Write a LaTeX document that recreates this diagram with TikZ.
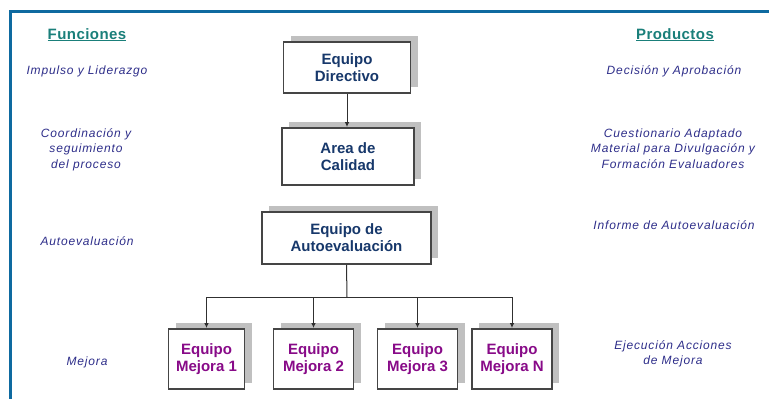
\documentclass[tikz,border=0pt]{standalone}
\usepackage{fontspec}
\setmainfont{Liberation Sans}
\newfontfamily\sidefont[LetterSpace=7]{Liberation Sans}
\newfontfamily\headfont[LetterSpace=3]{Liberation Sans}
\usetikzlibrary{arrows.meta,shadows}
\definecolor{framec}{HTML}{0E6AA0}
\definecolor{headc}{HTML}{1A7F7A}
\definecolor{sidec}{HTML}{2E2E8A}
\definecolor{navyc}{HTML}{17386B}
\definecolor{purplec}{HTML}{880A88}
\definecolor{shadowc}{HTML}{C0C0C0}
\definecolor{borderc}{HTML}{454545}
\definecolor{connc}{HTML}{303030}
\begin{document}
\begin{tikzpicture}[x=1pt,y=-1pt,
  box/.style={draw=borderc, line width=1.8pt, fill=white, align=center, inner sep=0pt,
    font=\fontsize{15}{17}\selectfont\bfseries,
    general shadow={fill=shadowc, shadow xshift=7pt, shadow yshift=6pt}},
  topbox/.style={box, text=navyc},
  mbox/.style={box, text=purplec, minimum width=80pt, minimum height=60pt},
  side/.style={text=sidec, font=\sidefont\itshape\fontsize{12}{15.5}\selectfont, align=center, anchor=base},
  head/.style={text=headc, font=\headfont\bfseries\fontsize{15}{17}\selectfont, anchor=base},
  conn/.style={draw=connc, line width=1pt},
  arr/.style={conn, -{Latex[length=5pt,width=4.5pt]}}]
\useasboundingbox (0,0) rectangle (769,399);
\fill[white] (0,0) rectangle (769,399);
\draw[framec, line width=3pt] (10.5,399) -- (10.5,11.5) -- (769,11.5);
% boxes
\node[topbox, minimum width=127pt, minimum height=51pt] (dir) at (347,67.5) {Equipo\\Directivo};
\node[topbox, minimum width=132pt, minimum height=57pt] (cal) at (348,156.5) {Area de\\Calidad};
\node[topbox, minimum width=169pt, minimum height=52pt] (auto) at (346.5,238) {Equipo de\\Autoevaluación};
\node[mbox, minimum width=76pt] (m1) at (206.5,359) {Equipo\\Mejora 1};
\node[mbox] (m2) at (313.5,359) {Equipo\\Mejora 2};
\node[mbox] (m3) at (417.5,359) {Equipo\\Mejora 3};
\node[mbox] (mn) at (512,359) {Equipo\\Mejora N};
% connectors
\draw[arr] (dir.south) -- (dir.south |- cal.north);
\coordinate (br) at (347,297);
\draw[conn] (auto.south) -- (br);
\draw[arr] (br) -| (m1.north);
\draw[arr] (br) -| (m2.north);
\draw[arr] (br) -| (m3.north);
\draw[arr] (br) -| (mn.north);
% side texts (base anchor = baseline of last line)
\node[head] (fun) at (87,39) {\underline{Funciones}};
\node[head] (pro) at (675,39) {\underline{Productos}};
\node[side] (f1) at (87,74) {Impulso y Liderazgo};
\node[side] (f2) at (86,168) {Coordinación y\\seguimiento\\del proceso};
\node[side] (f3) at (87,245.5) {Autoevaluación};
\node[side] (f4) at (87,365) {Mejora};
\node[side] (p1) at (674,74) {Decisión y Aprobación};
\node[side] (p2) at (673,168) {Cuestionario Adaptado\\Material para Divulgación y\\Formación Evaluadores};
\node[side] (p3) at (674,229) {Informe de Autoevaluación};
\node[side] (p4) at (673,364.5) {Ejecución Acciones\\de Mejora};
\end{tikzpicture}
\end{document}
